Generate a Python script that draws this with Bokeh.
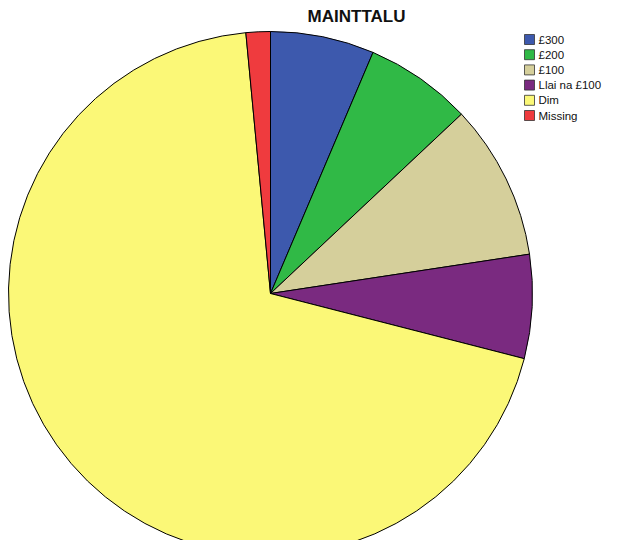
import numpy as np
from bokeh.plotting import figure
from bokeh.models import ColumnDataSource
from bokeh.core.properties import value
from bokeh.embed import file_html
from bokeh.resources import INLINE

categories = ["£300", "£200", "£100", "Llai na £100", "Dim", "Missing"]
percents = [6.4, 6.6, 9.6, 6.4, 69.5, 1.5]
colors = ["#3d59ad", "#30b946", "#d5cf9b", "#7a2a80", "#fbf877", "#ef3b3e"]
title_text = "MAINTTALU"

W, H = 603, 540
p = figure(width=W, height=H, x_range=(0, W), y_range=(0, H),
           output_backend="svg", toolbar_location=None, min_border=0)
p.axis.visible = False
p.grid.visible = False
p.outline_line_color = None

vals = np.array(percents, dtype=float)
frac = vals / vals.sum()
cum = np.concatenate([[0], np.cumsum(frac)])
start = np.pi / 2 - cum[:-1] * 2 * np.pi
end = np.pi / 2 - cum[1:] * 2 * np.pi

cx, cy, r = 270, 247, 262
src = ColumnDataSource(dict(start=start, end=end, color=colors, cat=categories))
p.wedge(x=cx, y=cy, radius=r, start_angle="start", end_angle="end",
        direction="clock", fill_color="color", line_color="black",
        line_width=1, source=src)

p.text(x=[356], y=[H - 15.5], text=[title_text], text_font=value("Liberation Sans"),
       text_font_size="17px", text_font_style="bold", text_align="center",
       text_baseline="middle", text_color="#111111")

n = len(categories)
ly = [H - 39 - i * 15.2 for i in range(n)]
p.rect(x=[529] * n, y=ly, width=10, height=10, fill_color=colors,
       line_color="#333333", line_width=0.8)
p.text(x=[538] * n, y=ly, text=categories, text_font=value("Liberation Sans"),
       text_font_size="11.5px", text_baseline="middle", text_color="#111111")

open("out.html", "w").write(file_html(p, INLINE))
